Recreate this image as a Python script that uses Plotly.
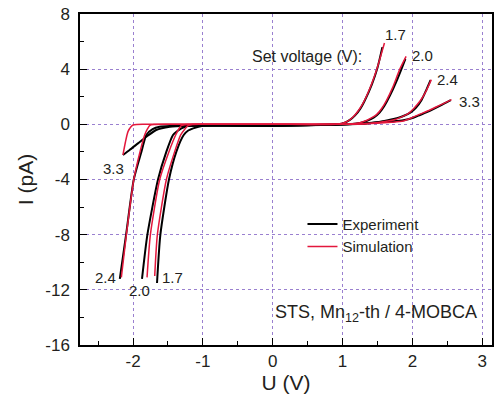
import plotly.graph_objects as go

# ---- data ----
set_voltages = ["1.7", "2.0", "2.4", "3.3"]

exp_17_u = [-1.657, -1.609, -1.486, -1.38, -1.275, -1.21, -1.14, -1.0, -0.8, -0.4, 0.0, 0.4, 0.7, 0.9, 1.0, 1.1, 1.18, 1.25, 1.32, 1.42, 1.5, 1.57]
exp_17_i = [-11.5, -8.0, -4.0, -1.98, -0.77, -0.45, -0.29, -0.1, -0.08, -0.09, -0.1, -0.07, -0.03, 0.0, 0.06, 0.3, 0.65, 1.1, 1.75, 2.9, 4.1, 5.6]
sim_17_u = [-1.69, -1.652, -1.523, -1.404, -1.318, -1.26, -1.213, -1.15, -1.05, 0.0, 0.9, 1.0, 1.08, 1.15, 1.22, 1.29, 1.39, 1.49, 1.60]
sim_17_i = [-11.0, -8.0, -4.0, -1.98, -0.77, -0.35, -0.1, -0.02, 0.0, 0.0, 0.01, 0.08, 0.25, 0.53, 0.95, 1.5, 2.6, 4.0, 5.9]

exp_20_u = [-1.872, -1.795, -1.643, -1.523, -1.428, -1.37, -1.308, -1.22, -1.14, -1.0, -0.7, -0.3, 0.0, 0.4, 0.8, 1.1, 1.25, 1.35, 1.45, 1.53, 1.6, 1.68, 1.77, 1.85, 1.90]
exp_20_i = [-11.2, -8.0, -4.0, -1.98, -0.77, -0.5, -0.29, -0.12, -0.08, -0.08, -0.09, -0.1, -0.1, -0.07, -0.03, 0.0, 0.1, 0.25, 0.5, 0.85, 1.35, 2.1, 3.1, 4.1, 4.75]
sim_20_u = [-1.80, -1.752, -1.619, -1.486, -1.39, -1.34, -1.31, -1.26, -1.15, 0.0, 1.1, 1.25, 1.35, 1.42, 1.49, 1.56, 1.63, 1.72, 1.82, 1.91]
sim_20_i = [-11.1, -8.0, -4.0, -1.98, -0.77, -0.3, -0.1, -0.03, 0.0, 0.0, 0.02, 0.12, 0.3, 0.48, 0.72, 1.15, 1.74, 2.7, 4.0, 4.93]

exp_24_u = [-2.19, -2.1, -1.99, -1.88, -1.81, -1.72, -1.62, -1.45, -1.2, -0.8, -0.3, 0.2, 0.7, 1.1, 1.3, 1.5, 1.65, 1.78, 1.88, 1.97, 2.05, 2.13, 2.2, 2.26]
exp_24_i = [-11.2, -8.0, -4.0, -1.98, -0.77, -0.35, -0.17, -0.12, -0.1, -0.08, -0.1, -0.09, -0.04, 0.0, 0.05, 0.15, 0.3, 0.45, 0.62, 0.85, 1.2, 1.75, 2.5, 3.2]
sim_24_u = [-2.168, -2.096, -1.99, -1.9, -1.834, -1.79, -1.76, -1.7, -1.5, 0.0, 1.2, 1.4, 1.6, 1.75, 1.87, 1.94, 2.02, 2.11, 2.2, 2.27]
sim_24_i = [-11.1, -8.0, -4.0, -1.98, -0.77, -0.3, -0.08, -0.02, 0.0, 0.0, 0.02, 0.08, 0.2, 0.35, 0.6, 0.78, 1.15, 1.69, 2.45, 3.24]

exp_33_u = [-2.145, -2.05, -1.93, -1.81, -1.67, -1.475, -1.2, -0.9, -0.5, 0.0, 0.5, 1.0, 1.3, 1.5, 1.7, 1.87, 2.0, 2.11, 2.25, 2.4, 2.55]
exp_33_i = [-2.22, -1.86, -1.38, -0.9, -0.41, -0.17, -0.1, -0.08, -0.08, -0.1, -0.06, 0.0, 0.06, 0.15, 0.22, 0.3, 0.45, 0.68, 0.98, 1.35, 1.75]
sim_33_u = [-2.145, -2.11, -2.073, -2.03, -2.0, -1.95, -1.85, -1.5, 0.0, 1.0, 1.3, 1.5, 1.7, 1.87, 2.0, 2.11, 2.25, 2.34, 2.45, 2.56]
sim_33_i = [-2.22, -1.3, -0.53, -0.18, -0.05, -0.01, 0.0, 0.0, 0.0, 0.0, 0.03, 0.08, 0.15, 0.24, 0.5, 0.74, 1.04, 1.26, 1.52, 1.79]

exp_curves = [(exp_17_u, exp_17_i), (exp_20_u, exp_20_i), (exp_24_u, exp_24_i), (exp_33_u, exp_33_i)]
sim_curves = [(sim_17_u, sim_17_i), (sim_20_u, sim_20_i), (sim_24_u, sim_24_i), (sim_33_u, sim_33_i)]

x_ticks = [-2, -1, 0, 1, 2, 3]
x_ticktext = ["-2", "-1", "0", "1", "2", "3"]
y_ticks = [-16, -12, -8, -4, 0, 4, 8]
y_ticktext = ["-16", "-12", "-8", "-4", "0", "4", "8"]

BLACK = "#000000"
RED = "#e3173c"
GRID = "#9a80d0"
TXT = "#231f20"
FONT = "Liberation Sans, Arial, sans-serif"

fig = go.Figure()
for k, (u, i) in enumerate(exp_curves):
    fig.add_trace(go.Scatter(x=u, y=i, mode="lines", name="Experiment",
                             line=dict(color=BLACK, width=2, shape="spline", smoothing=0.6),
                             showlegend=(k == 0), legendgroup="exp"))
for k, (u, i) in enumerate(sim_curves):
    fig.add_trace(go.Scatter(x=u, y=i, mode="lines", name="Simulation",
                             line=dict(color=RED, width=1.5, shape="spline", smoothing=0.6),
                             showlegend=(k == 0), legendgroup="sim"))

axis_common = dict(showline=True, linecolor="black", linewidth=1.5, mirror=True,
                   ticks="inside", ticklen=7, tickwidth=1.2, tickcolor="black",
                   showgrid=True, gridcolor=GRID, griddash="dot", gridwidth=1,
                   zeroline=False, automargin=False, ticklabeloverflow="allow")

fig.update_xaxes(range=[-2.76, 3.14], tickvals=x_ticks, ticktext=x_ticktext,
                 tickfont=dict(size=17, color=TXT, family=FONT),
                 minor=dict(tickvals=[-2.5, -1.5, -0.5, 0.5, 1.5, 2.5], ticks="inside", ticklen=4, tickcolor="black", showgrid=False),
                 title=dict(text="U (V)", font=dict(size=21, color=TXT, family=FONT), standoff=4),
                 **axis_common)
fig.update_yaxes(range=[-16, 8], tickvals=y_ticks, ticktext=y_ticktext,
                 tickfont=dict(size=17, color=TXT, family=FONT),
                 minor=dict(tickvals=[-14, -10, -6, -2, 2, 6], ticks="inside", ticklen=4, tickcolor="black", showgrid=False),
                 title=dict(text="I (pA)", font=dict(size=21, color=TXT, family=FONT), standoff=6),
                 ticklabelstandoff=5,
                 **axis_common)

ann_font = dict(size=15, color=TXT, family=FONT)
labels = [
    ("1.7", 1.762, 6.53), ("2.0", 2.142, 4.97), ("2.4", 2.507, 3.26), ("3.3", 2.822, 1.63),
    ("3.3", -2.285, -3.19), ("2.4", -2.39, -11.1), ("2.0", -1.905, -12.04), ("1.7", -1.43, -11.1),
]
for t, x, y in labels:
    fig.add_annotation(x=x, y=y, text=t, showarrow=False, font=ann_font, xanchor="center", yanchor="middle")
fig.add_annotation(x=0.487, y=4.93, text="Set voltage (V):", showarrow=False,
                   font=dict(size=16, color=TXT, family=FONT), xanchor="center", yanchor="middle")
fig.add_annotation(x=0.0, y=-13.7, text="STS, Mn<sub>12</sub>-th / 4-MOBCA", showarrow=False,
                   font=dict(size=18, color=TXT, family=FONT), xanchor="left", yanchor="middle")

fig.update_layout(
    width=494, height=403,
    margin=dict(l=80, r=2, t=14, b=58),
    plot_bgcolor="white", paper_bgcolor="white",
    font=dict(family=FONT, color=TXT),
    showlegend=True,
    legend=dict(x=0.54, y=0.415, xanchor="left", yanchor="top", bgcolor="rgba(0,0,0,0)",
                font=dict(size=15, color=TXT, family=FONT), tracegroupgap=0,
                itemwidth=30),
)

# remove the default page-body margin so the figure sits at the window's top-left corner
fig.write_html("out.html", config={"displayModeBar": False},
               post_script="document.body.style.margin='0';document.body.style.overflow='hidden';")
